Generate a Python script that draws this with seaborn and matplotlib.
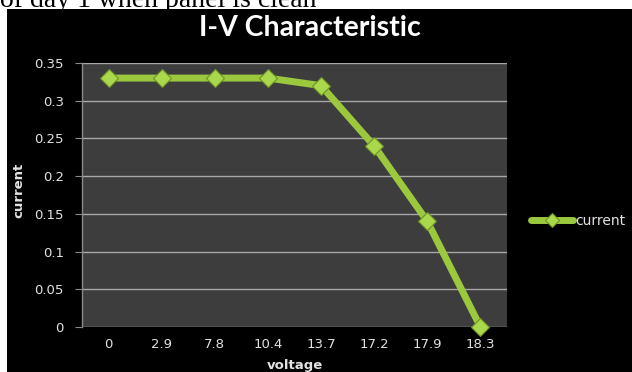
import matplotlib
matplotlib.use("Agg")
import matplotlib.pyplot as plt
import matplotlib.patches as mpatches
import seaborn as sns
import pandas as pd

voltage = ["0", "2.9", "7.8", "10.4", "13.7", "17.2", "17.9", "18.3"]
current = [0.33, 0.33, 0.33, 0.33, 0.32, 0.24, 0.14, 0.0]
y_ticks = [0, 0.05, 0.1, 0.15, 0.2, 0.25, 0.3, 0.35]
y_tick_labels = ["0", "0.05", "0.1", "0.15", "0.2", "0.25", "0.3", "0.35"]

df = pd.DataFrame({"voltage": voltage, "current": current})

sns.set_theme(style="dark")
plt.rcParams["font.family"] = ["DejaVu Sans"]

W, H = 632, 372
fig = plt.figure(figsize=(W / 100, H / 100), dpi=100)
fig.patch.set_facecolor("white")

# black chart frame below the caption strip
fig.add_artist(mpatches.Rectangle((7 / W, 0), 1 - 7 / W, (H - 9) / H,
                                  transform=fig.transFigure, facecolor="black",
                                  edgecolor="none", zorder=0))
# caption line from the surrounding document, cut at the top
fig.text(0, 1 - 7 / H, "of day 1 when panel is clean", family="Liberation Serif",
         fontsize=20, color="black", ha="left", va="baseline", zorder=-1)

ax = fig.add_axes([82 / W, 1 - 327 / H, (507 - 82) / W, (327 - 63) / H])
ax.set_facecolor("#3d3d3d")

line_color = "#9cc83e"
sns.lineplot(data=df, x="voltage", y="current", sort=False, ax=ax,
             color=line_color, linewidth=5, marker="D", markersize=9.5,
             markerfacecolor="#a9d84c", markeredgecolor="#6f9128",
             markeredgewidth=0.8, label="current", clip_on=False, zorder=5)

ax.set_ylim(0, 0.35)
ax.set_xlim(-0.5, len(voltage) - 0.5)
ax.set_yticks(y_ticks)
ax.set_yticklabels(y_tick_labels)
ax.grid(axis="y", color="#a8a8a8", linewidth=1.0)
ax.grid(axis="x", visible=False)

for side in ["top", "right", "bottom"]:
    ax.spines[side].set_visible(False)
ax.spines["left"].set_color("#8a8a8a")
ax.spines["left"].set_linewidth(1.0)

tick_color = "#e2e2e2"
ax.tick_params(axis="y", labelcolor=tick_color, color="#8a8a8a", labelsize=9.5,
               length=5, width=0.8, direction="out", left=True, pad=8)
ax.tick_params(axis="x", labelcolor=tick_color, labelsize=9.5, length=0, pad=8)

ax.set_xlabel("voltage", color=tick_color, fontsize=9.5, fontweight="bold", va="center")
ax.set_ylabel("current", color=tick_color, fontsize=9.5, fontweight="bold", va="center")
ax.xaxis.set_label_coords(0.5, (327 - 365) / (327 - 63))
ax.yaxis.set_label_coords((19 - 82) / (507 - 82), 0.5 + (195 - 190) / (327 - 63))

fig.text(310 / W, 1 - 36 / H, "I-V Characteristic", family="Lato", color="white",
         fontsize=20.5, fontweight="bold", ha="center", va="baseline")

leg = ax.legend(loc="center left", bbox_to_anchor=((531 - 82) / (507 - 82), (327 - 221) / (327 - 63)),
                frameon=False, fontsize=10, labelcolor=tick_color, handlelength=3.0,
                handletextpad=0.15, markerscale=0.8, borderpad=0, borderaxespad=0)

fig.savefig("out.png", dpi=100, facecolor=fig.get_facecolor())
